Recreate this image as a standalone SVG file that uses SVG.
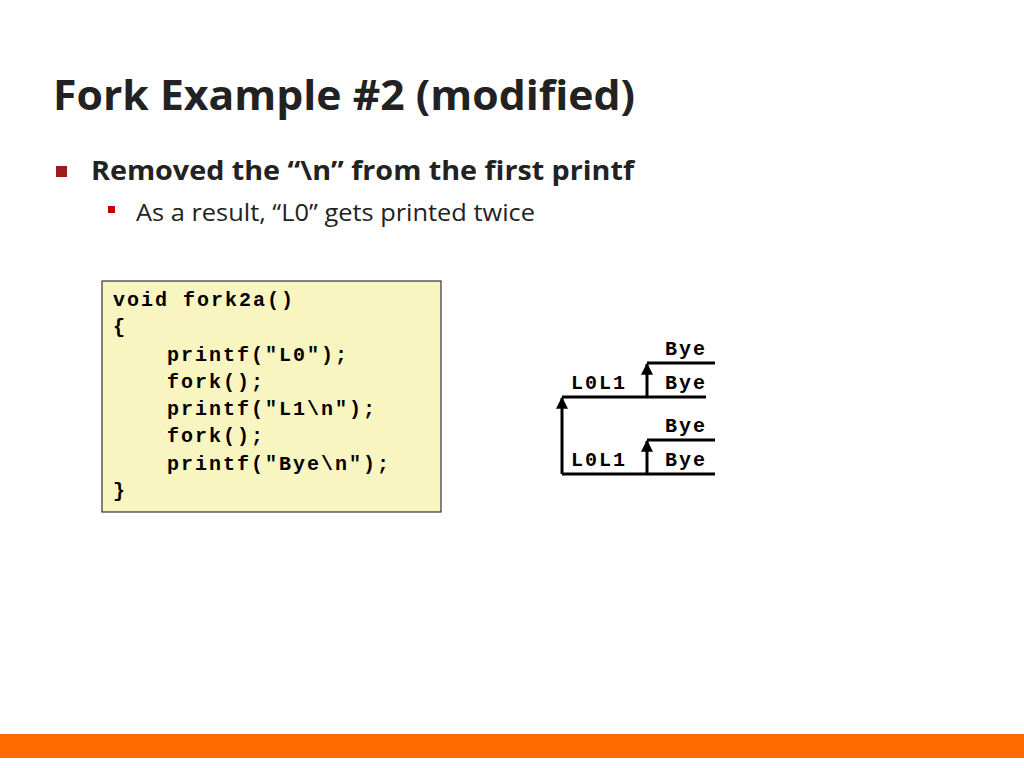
<svg xmlns="http://www.w3.org/2000/svg" width="1024" height="768" viewBox="0 0 1024 768">
<defs>
<style>
.code{font-family:"Liberation Mono",monospace;font-weight:bold;font-size:20px;letter-spacing:2px;fill:#000}
.ln{stroke:#000;stroke-width:3;fill:none}
</style>
<marker id="ah" viewBox="0 0 10 10" refX="9" refY="5" markerWidth="4" markerHeight="4" orient="auto"><path d="M0,0L10,5L0,10z" fill="#000"/></marker>
</defs>
<rect width="1024" height="768" fill="#fff"/>
<text x="53" y="110" font-family="Open Sans, sans-serif" font-weight="bold" font-size="42" fill="#222" textLength="582" lengthAdjust="spacingAndGlyphs">Fork Example #2 (modified)</text>
<rect x="56" y="166" width="11" height="11" fill="#9c1c1c"/>
<text x="91" y="180" font-family="Open Sans, sans-serif" font-weight="bold" font-size="27" fill="#222" textLength="543" lengthAdjust="spacingAndGlyphs">Removed the “\n” from the first printf</text>
<rect x="108" y="206" width="7" height="7" fill="#c00000"/>
<text x="136" y="221" font-family="Open Sans, sans-serif" font-size="23" fill="#222" textLength="399" lengthAdjust="spacingAndGlyphs">As a result, “L0” gets printed twice</text>
<g id="code">
<rect x="102" y="281" width="339" height="231" fill="#f8f5c1" stroke="#333" stroke-width="1.2"/>
<text class="code" x="113" y="306">void fork2a()</text>
<text class="code" x="113" y="333">{</text>
<text class="code" x="167" y="361">printf("L0");</text>
<text class="code" x="167" y="388">fork();</text>
<text class="code" x="167" y="415">printf("L1\n");</text>
<text class="code" x="167" y="442">fork();</text>
<text class="code" x="167" y="470">printf("Bye\n");</text>
<text class="code" x="113" y="497">}</text>
</g>
<g id="connectors">
<path class="ln" d="M562,474V398" marker-end="url(#ah)"/>
<path class="ln" d="M562,397H706"/>
<path class="ln" d="M647,397V364" marker-end="url(#ah)"/>
<path class="ln" d="M647,363H715"/>
<path class="ln" d="M562,474H715"/>
<path class="ln" d="M647,474V441" marker-end="url(#ah)"/>
<path class="ln" d="M647,440H715"/>
</g>
<g id="labels">
<text class="code" x="665" y="355">Bye</text>
<text class="code" x="571" y="389">L0L1</text>
<text class="code" x="665" y="389">Bye</text>
<text class="code" x="665" y="432">Bye</text>
<text class="code" x="571" y="466">L0L1</text>
<text class="code" x="665" y="466">Bye</text>
</g>
<rect x="0" y="734" width="1024" height="24" fill="#ff6a00"/>
</svg>
